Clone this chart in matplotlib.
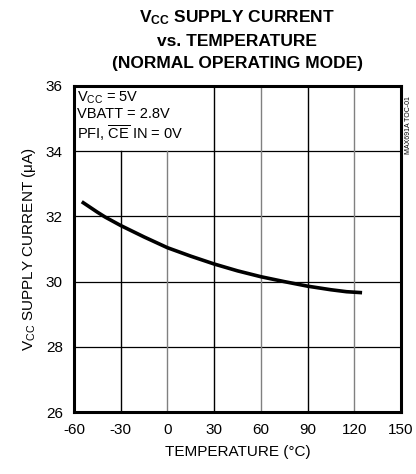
import numpy as np
import matplotlib
matplotlib.use("Agg")
import matplotlib.pyplot as plt

# curve
temp = [-55, -50, -45, -40, -30, -15, 0, 15, 30, 45, 60, 75, 90, 105, 115, 125]
icc = [32.45, 32.29, 32.13, 31.98, 31.72, 31.37, 31.04, 30.78, 30.54, 30.33, 30.15, 30.0, 29.86, 29.75, 29.69, 29.66]

xticks = [-60, -30, 0, 30, 60, 90, 120, 150]
yticks = [26, 28, 30, 32, 34, 36]

plt.rcParams["font.family"] = ["Liberation Sans", "DejaVu Sans"]
plt.rcParams["mathtext.fontset"] = "custom"
plt.rcParams["mathtext.rm"] = "Liberation Sans"
plt.rcParams["mathtext.it"] = "Liberation Sans"
plt.rcParams["mathtext.bf"] = "Liberation Sans:bold"
plt.rcParams["axes.unicode_minus"] = False

fig = plt.figure(figsize=(4.16, 4.74), dpi=100)
ax = fig.add_axes([74 / 416, 1 - 412 / 474, 327 / 416, 326 / 474])

ax.set_xlim(-60, 150)
ax.set_ylim(26, 36)

# grid: horizontal lines full width
for y in yticks[1:-1]:
    ax.axhline(y, color="black", lw=0.9, zorder=1)
# vertical lines, the first two stop under the note box
for x in xticks[1:-1]:
    c = "black" if x in (-30, 30, 90) else "#808080"
    top = 34 if x in (-30, 0) else 36
    ax.plot([x, x], [26, top], color=c, lw=1.0, zorder=1)

ax.plot(temp, icc, color="black", lw=2.6, solid_capstyle="butt", zorder=3)

ax.set_xticks(xticks)
ax.set_yticks(yticks)
ax.tick_params(length=0, labelsize=11, pad=8)
for s in ax.spines.values():
    s.set_linewidth(2.2)

ax.set_xlabel("TEMPERATURE (°C)", fontsize=11, labelpad=6)
ax.set_ylabel(r"V$_{\rm CC}$ SUPPLY CURRENT ($\mu$A)", fontsize=11, labelpad=6)

note = "V$_{\\rm CC}$ = 5V\nVBATT = 2.8V\nPFI, $\\overline{\\rm CE}$ IN = 0V"
ax.text(-58, 35.9, note, fontsize=10.5, va="top", ha="left", linespacing=1.15, zorder=4)

fig.text(237 / 416, 1 - 8 / 474,
         "V$_{\\bf CC}$ SUPPLY CURRENT\nvs. TEMPERATURE\n(NORMAL OPERATING MODE)",
         fontsize=12.5, fontweight="bold", linespacing=1.6, ha="center", va="top")

fig.text(408 / 416, 1 - 125 / 474, "MAX691A TOC-01", rotation=90, fontsize=5,
         ha="center", va="center")

fig.savefig("out.png", dpi=100)
